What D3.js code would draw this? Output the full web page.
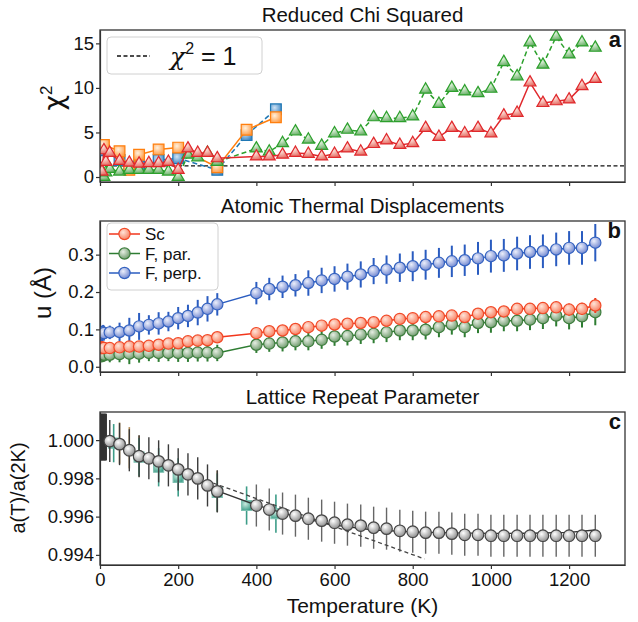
<!DOCTYPE html>
<html lang="en">
<head>
<meta charset="utf-8">
<title>Chi squared, thermal displacements, lattice parameter</title>
<script src="https://d3js.org/d3.v7.min.js"></script>
<style>
body { margin: 0; background: #fff; }
svg { font-family: "Liberation Sans", Arial, sans-serif; }
.axis path, .axis line { stroke: #333; stroke-width: 1.2; }
.axis text { font-size: 18.5px; fill: #111; font-family: "Liberation Sans", Arial, sans-serif; }
.title { font-size: 20.5px; fill: #111; }
</style>
</head>
<body>
<script>
// ---- temperatures (K) ----
var lowA = [5, 10, 15];
var lowB = [2, 4, 6, 8, 10];
var midT = [25, 50, 75, 100, 125, 150, 175, 200, 225, 250, 275, 300];
var highT = [400, 433, 467, 500, 533, 567, 600, 633, 667, 700, 733, 767, 800, 833, 867,
             900, 933, 967, 1000, 1033, 1067, 1100, 1133, 1167, 1200, 1233, 1267];
var xTicks = [0, 200, 400, 600, 800, 1000, 1200];

// ---- panel a: reduced chi squared ----
var chiRed = [0.6, 3.0, 1.7,
              2.7, 1.8, 1.6, 1.5, 1.55, 1.55, 1.7, 0.8, 3.2, 2.7, 2.7, 2.1,
              2.3, 2.3, 2.5, 2.7, 2.6, 2.3, 2.6, 3.2, 2.85, 3.7, 4.1, 3.6, 3.8, 5.5,
              4.5, 5.5, 4.9, 5.5, 4.9, 6.9, 7.2, 10.6, 8.3, 8.5, 8.7, 10.2, 11.0];
var chiGreen = [0.3, 0.0, 0.5,
                0.9, 0.6, 0.8, 0.8, 0.8, 0.8, 0.6, 0.0, 2.5, 2.2, 2.7, 1.7,
                3.2, 2.85, 3.8, 5.1, 4.2, 3.5, 4.9, 5.3, 5.1, 6.7, 6.6, 6.6, 6.8, 9.8,
                8.2, 10.0, 9.6, 9.4, 9.9, 12.9, 11.3, 15.1, 12.6, 15.75, 13.75, 15.1, 14.5];
var sqT = [10, 50, 75, 100, 150, 200, 300, 375, 450];
var chiOrange = [3.6, 2.9, 0.8, 2.5, 3.1, 3.3, 1.1, 5.3, 6.7];
var chiBlue = [3.0, 1.9, 1.0, 1.2, 1.9, 2.1, 0.8, 4.7, 7.6];
var chiOne = 1.25;
var chiTicks = [0, 5, 10, 15];

// ---- panel b: thermal displacements (Å) ----
var uSc = [0.05, 0.052, 0.05, 0.051, 0.05,
           0.050, 0.052, 0.054, 0.054, 0.056, 0.059, 0.062, 0.063, 0.068, 0.070, 0.071, 0.079,
           0.090, 0.095, 0.097, 0.101, 0.106, 0.110, 0.113, 0.115, 0.117, 0.119, 0.123, 0.128, 0.130,
           0.133, 0.135, 0.137, 0.133, 0.142, 0.146, 0.148, 0.155, 0.155, 0.157, 0.159, 0.153, 0.155, 0.164];
var uScErr = [0.01, 0.01, 0.01, 0.01, 0.01,
              0.006, 0.006, 0.006, 0.006, 0.006, 0.007, 0.007, 0.007, 0.008, 0.008, 0.008, 0.008,
              0.008, 0.008, 0.008, 0.009, 0.009, 0.009, 0.01, 0.01, 0.01, 0.01, 0.011, 0.011, 0.011,
              0.012, 0.012, 0.012, 0.012, 0.013, 0.013, 0.014, 0.014, 0.015, 0.015, 0.015, 0.016, 0.016, 0.02];
var uPar = [0.03, 0.028, 0.031, 0.03, 0.032,
            0.032, 0.034, 0.035, 0.035, 0.037, 0.037, 0.037, 0.037, 0.037, 0.038, 0.038, 0.037,
            0.059, 0.062, 0.065, 0.068, 0.068, 0.072, 0.081, 0.082, 0.086, 0.088, 0.092, 0.097, 0.097,
            0.099, 0.106, 0.113, 0.106, 0.117, 0.119, 0.123, 0.123, 0.126, 0.130, 0.137, 0.130, 0.135, 0.146];
var uParErr = [0.015, 0.015, 0.015, 0.015, 0.015,
               0.02, 0.022, 0.028, 0.024, 0.022, 0.024, 0.022, 0.024, 0.024, 0.024, 0.024, 0.022,
               0.022, 0.022, 0.024, 0.024, 0.024, 0.024, 0.025, 0.025, 0.025, 0.025, 0.026, 0.026, 0.026,
               0.026, 0.027, 0.027, 0.027, 0.027, 0.028, 0.028, 0.028, 0.028, 0.029, 0.029, 0.03, 0.03, 0.035];
var uPerp = [0.086, 0.09, 0.088, 0.092, 0.09,
             0.092, 0.093, 0.097, 0.108, 0.112, 0.116, 0.121, 0.130, 0.136, 0.145, 0.155, 0.167,
             0.197, 0.208, 0.214, 0.218, 0.224, 0.231, 0.235, 0.241, 0.247, 0.256, 0.260, 0.265, 0.269,
             0.273, 0.278, 0.282, 0.285, 0.290, 0.296, 0.298, 0.303, 0.307, 0.309, 0.314, 0.318, 0.318, 0.332];
var uPerpErr = [0.02, 0.02, 0.02, 0.02, 0.02,
                0.018, 0.025, 0.034, 0.036, 0.026, 0.03, 0.026, 0.03, 0.03, 0.034, 0.034, 0.03,
                0.03, 0.03, 0.03, 0.03, 0.034, 0.034, 0.034, 0.035, 0.035, 0.035, 0.038, 0.038, 0.04,
                0.04, 0.04, 0.042, 0.042, 0.044, 0.044, 0.044, 0.045, 0.045, 0.045, 0.045, 0.045, 0.045, 0.05];
var uTicks = [0.0, 0.1, 0.2, 0.3];
var uNames = ["Sc", "F, par.", "F, perp."];

// ---- panel c: lattice repeat parameter a(T)/a(2K) ----
var aRatio = [0.99995, 0.99979, 0.99947, 0.99916, 0.99905, 0.99889, 0.99868, 0.99847, 0.99821, 0.998, 0.99763, 0.99732,
              0.99658, 0.99637, 0.99616, 0.99605, 0.99589, 0.99579, 0.99568, 0.99558, 0.99553, 0.99542, 0.99537,
              0.99526, 0.99521, 0.99516, 0.99516, 0.99511, 0.99505, 0.99505, 0.995, 0.995, 0.995, 0.995, 0.995,
              0.995, 0.995, 0.995, 0.995];
var aRatioErr = 0.0011;
var darkT = [1, 3, 5, 7, 9, 11, 13, 15];
var darkVal = 1.00016, darkErr = 0.00122;
var tanT = [50, 75, 100, 300];
var tanVal = [0.99984, 0.9996, 0.99916, 0.99732];
var tealT = [35, 100, 150, 200, 300, 375, 450];
var tealVal = [0.99984, 0.99911, 0.99858, 0.99805, 0.99726, 0.99658, 0.99616];
var tealErr = 0.001;
var fitT = [0, 100, 200, 300, 400, 500, 600, 700, 800, 900, 1000, 1100, 1200, 1267];
var fitVal = [1.00005, 0.9992, 0.9985, 0.99735, 0.9966, 0.996, 0.99555, 0.9953, 0.9952, 0.99515, 0.99512, 0.99513, 0.99518, 0.9953];
var lowFitT = [290, 830];
var lowFitVal = [0.99775, 0.99379];
var aTicks = [0.994, 0.996, 0.998, 1.000];

// ---- layout ----
var w = 638, h = 622;
var left = 100, right = 625;
var pa = {top: 30, bottom: 182}, pb = {top: 221, bottom: 372}, pc = {top: 412, bottom: 565};

var x = d3.scaleLinear().domain([0, 1343]).range([left, right]);
var yA = d3.scaleLinear().domain([-0.56, 16.5]).range([pa.bottom, pa.top]);
var yB = d3.scaleLinear().domain([-0.014, 0.39]).range([pb.bottom, pb.top]);
var yC = d3.scaleLinear().domain([0.99347, 1.00147]).range([pc.bottom, pc.top]);

var svg = d3.select("body").append("svg").attr("width", w).attr("height", h);
var defs = svg.append("defs");

function gradient(id, light, dark) {
    var g = defs.append("radialGradient").attr("id", id)
        .attr("cx", "0.38").attr("cy", "0.35").attr("r", "0.7");
    g.append("stop").attr("offset", "0").attr("stop-color", light);
    g.append("stop").attr("offset", "1").attr("stop-color", dark);
}
gradient("gRedTri", "#fde3dc", "#e4675e");
gradient("gGreenTri", "#e4f3e0", "#63ad62");
gradient("gOrange", "#fff0dc", "#ff9c45");
gradient("gBlueSq", "#cfe2f3", "#3d86c4");
gradient("gSc", "#ffe4d8", "#f77b5c");
gradient("gPar", "#e6eee3", "#6b9869");
gradient("gPerp", "#eceffb", "#6d84cf");
gradient("gGray", "#ffffff", "#8a8a8a");
gradient("gTeal", "#c9eadf", "#3d9d88");

function clip(id, p) {
    defs.append("clipPath").attr("id", id).append("rect")
        .attr("x", left).attr("y", p.top).attr("width", right - left).attr("height", p.bottom - p.top);
}
clip("clipA", pa); clip("clipB", pb); clip("clipC", pc);

function zip(t, v) { return t.map(function(d, i) { return [d, Array.isArray(v) ? v[i] : v]; }); }

function frame(p, y, ticks, fmt, labels, title) {
    svg.append("g").attr("class", "axis").attr("transform", "translate(0," + p.bottom + ")")
        .call(d3.axisBottom(x).tickValues(xTicks).tickSize(4).tickSizeOuter(0).tickPadding(4)
              .tickFormat(labels ? d3.format("d") : ""));
    svg.append("g").attr("class", "axis").attr("transform", "translate(" + left + ",0)")
        .call(d3.axisLeft(y).tickValues(ticks).tickSize(4).tickSizeOuter(0).tickPadding(2).tickFormat(d3.format(fmt)));
    svg.append("text").attr("class", "title").attr("x", (left + right) / 2).attr("y", p.top - 8)
        .attr("text-anchor", "middle").text(title);
}
function box(p) {
    svg.append("rect").attr("x", left).attr("y", p.top).attr("width", right - left).attr("height", p.bottom - p.top)
        .attr("fill", "none").attr("stroke", "#333").attr("stroke-width", 1.3);
}
function letter(p, s) {
    svg.append("text").attr("x", 621).attr("y", p.top + 17).attr("text-anchor", "end")
        .attr("font-size", "22px").attr("font-weight", "bold").attr("fill", "#111").text(s);
}
function line(g, y, pts, color, dash, width) {
    g.append("path").datum(pts)
        .attr("d", d3.line().x(function(d) { return x(d[0]); }).y(function(d) { return y(d[1]); }))
        .attr("fill", "none").attr("stroke", color).attr("stroke-width", width || 1.5)
        .attr("stroke-dasharray", dash || null);
}
function symbols(g, y, pts, type, size, fill, stroke) {
    g.selectAll(null).data(pts).enter().append("path")
        .attr("d", d3.symbol().type(type).size(size))
        .attr("transform", function(d) { return "translate(" + x(d[0]) + "," + y(d[1]) + ")"; })
        .attr("fill", fill).attr("stroke", stroke).attr("stroke-width", 1.2);
}
function errbars(g, y, pts, err, color, width) {
    g.selectAll(null).data(pts).enter().append("line")
        .attr("x1", function(d) { return x(d[0]); }).attr("x2", function(d) { return x(d[0]); })
        .attr("y1", function(d, i) { return y(d[1] - (Array.isArray(err) ? err[i] : err)); })
        .attr("y2", function(d, i) { return y(d[1] + (Array.isArray(err) ? err[i] : err)); })
        .attr("stroke", color).attr("stroke-width", width || 1.6);
}

// ================= panel a =================
frame(pa, yA, chiTicks, "d", false, "Reduced Chi Squared");
var ga = svg.append("g").attr("clip-path", "url(#clipA)");
var chiT = lowA.concat(midT, highT);
ga.append("line").attr("x1", left).attr("x2", right).attr("y1", yA(chiOne)).attr("y2", yA(chiOne))
    .attr("stroke", "#111").attr("stroke-width", 1.4).attr("stroke-dasharray", "4,2.5");
line(ga, yA, zip(sqT, chiBlue), "#1f77b4", "5,3");
symbols(ga, yA, zip(sqT, chiBlue), d3.symbolSquare, 115, "url(#gBlueSq)", "#1f77b4");
line(ga, yA, zip(sqT, chiOrange), "#ff7f0e");
symbols(ga, yA, zip(sqT, chiOrange), d3.symbolSquare, 115, "url(#gOrange)", "#ff7f0e");
line(ga, yA, zip(chiT, chiGreen), "#2ca02c", "5,3");
symbols(ga, yA, zip(chiT, chiGreen), d3.symbolTriangle, 62, "url(#gGreenTri)", "#2ca02c");
line(ga, yA, zip(chiT, chiRed), "#e0282c");
symbols(ga, yA, zip(chiT, chiRed), d3.symbolTriangle, 62, "url(#gRedTri)", "#e0282c");
box(pa);
letter(pa, "a");

// legend a
svg.append("rect").attr("x", 107).attr("y", 37).attr("width", 155).attr("height", 37).attr("rx", 4)
    .attr("fill", "#fff").attr("fill-opacity", 0.85).attr("stroke", "#d0d0d0");
svg.append("line").attr("x1", 117).attr("x2", 150).attr("y1", 56).attr("y2", 56)
    .attr("stroke", "#111").attr("stroke-width", 1.4).attr("stroke-dasharray", "4,2.5");
var lt = svg.append("text").attr("x", 170).attr("y", 65).attr("font-size", "25px").attr("fill", "#111");
lt.append("tspan").attr("font-style", "italic").attr("font-family", "DejaVu Serif, serif").text("χ");
lt.append("tspan").attr("dy", -11).attr("font-size", "16px").text("2");
lt.append("tspan").attr("dy", 11).text(" = 1");

// y label a
var yla = svg.append("text").attr("transform", "translate(63,98) rotate(-90)").attr("text-anchor", "middle")
    .attr("font-size", "27px").attr("fill", "#111");
yla.append("tspan").attr("font-family", "DejaVu Sans, sans-serif").text("χ");
yla.append("tspan").attr("dy", -11).attr("font-size", "17px").text("2");

// ================= panel b =================
frame(pb, yB, uTicks, ".1f", false, "Atomic Thermal Displacements");
var gb = svg.append("g").attr("clip-path", "url(#clipB)");
var uT = lowB.concat(midT, highT);
var uSeries = [
    {v: uPerp, e: uPerpErr, c: "#2a5cc0", f: "url(#gPerp)", s: "#3563c0"},
    {v: uPar, e: uParErr, c: "#2e7d32", f: "url(#gPar)", s: "#3e7e3e"},
    {v: uSc, e: uScErr, c: "#f2361c", f: "url(#gSc)", s: "#f24a28"}
];
uSeries.forEach(function(s) {
    var pts = zip(uT, s.v);
    errbars(gb, yB, pts, s.e, s.c, 2);
    line(gb, yB, pts, s.c);
    symbols(gb, yB, pts, d3.symbolCircle, 100, s.f, s.s);
});
box(pb);
letter(pb, "b");

// legend b
svg.append("rect").attr("x", 107).attr("y", 223).attr("width", 111).attr("height", 67).attr("rx", 4)
    .attr("fill", "#fff").attr("fill-opacity", 0.85).attr("stroke", "#d0d0d0");
[uSeries[2], uSeries[1], uSeries[0]].forEach(function(s, i) {
    var yy = 234 + i * 19.5;
    svg.append("line").attr("x1", 109).attr("x2", 140).attr("y1", yy).attr("y2", yy)
        .attr("stroke", s.c).attr("stroke-width", 1.5);
    svg.append("circle").attr("cx", 124.5).attr("cy", yy).attr("r", 5.6)
        .attr("fill", s.f).attr("stroke", s.s).attr("stroke-width", 1.2);
    svg.append("text").attr("x", 145).attr("y", yy + 6).attr("font-size", "17px").attr("fill", "#111")
        .text(uNames[i]);
});
svg.append("text").attr("transform", "translate(51,293) rotate(-90)").attr("text-anchor", "middle")
    .attr("font-size", "24px").attr("fill", "#111").text("u (Å)");

// ================= panel c =================
frame(pc, yC, aTicks, ".3f", true, "Lattice Repeat Parameter");
var gc = svg.append("g").attr("clip-path", "url(#clipC)");
errbars(gc, yC, zip(darkT, darkVal), darkErr, "#333", 2.2);
errbars(gc, yC, zip(tanT, tanVal), 0.00108, "#b08a55", 1.6);
errbars(gc, yC, zip(tealT, tealVal), tealErr, "#3d9d88", 1.6);
symbols(gc, yC, zip(tealT, tealVal), d3.symbolSquare, 100, "url(#gTeal)", "#7cc0b0");
var cPts = zip(midT.concat(highT), aRatio);
errbars(gc, yC, cPts.slice(0, midT.length), aRatioErr, "#3a3a3a", 1.4);
errbars(gc, yC, cPts.slice(midT.length), aRatioErr, "#666", 1.4);
line(gc, yC, zip(lowFitT, lowFitVal), "#444", "4,3", 1.3);
line(gc, yC, zip(fitT, fitVal), "#333", null, 1.3);
symbols(gc, yC, cPts, d3.symbolCircle, 105, "url(#gGray)", "#444");
box(pc);
letter(pc, "c");
svg.append("text").attr("transform", "translate(25,488) rotate(-90)").attr("text-anchor", "middle")
    .attr("font-size", "20px").attr("fill", "#111").text("a(T)/a(2K)");

svg.append("text").attr("x", (left + right) / 2).attr("y", 613).attr("text-anchor", "middle")
    .attr("font-size", "21px").attr("fill", "#111").text("Temperature (K)");
</script>
</body>
</html>
